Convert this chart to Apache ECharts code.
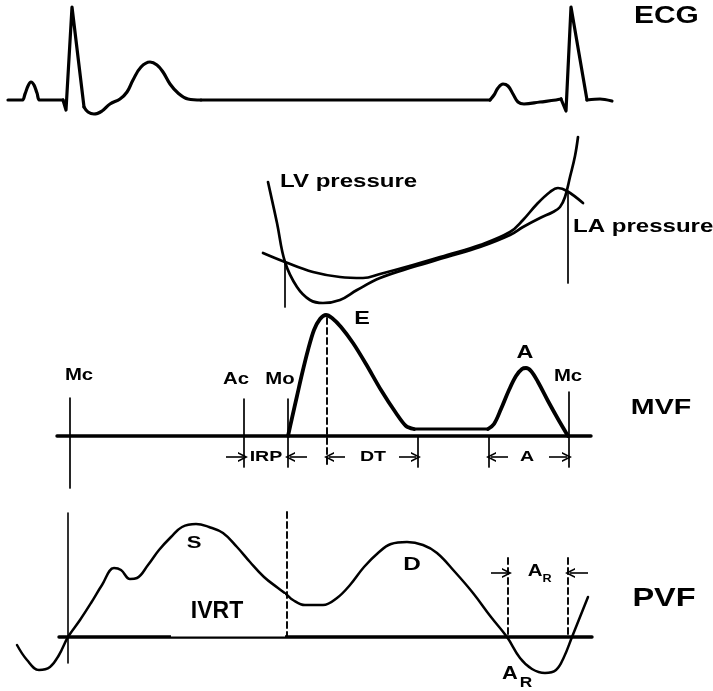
<!DOCTYPE html>
<html>
<head>
<meta charset="utf-8">
<title>Cardiac cycle: ECG, pressures, MVF, PVF</title>
<script src="https://cdn.jsdelivr.net/npm/echarts@6/dist/echarts.min.js"></script>
<style>
  html, body { margin: 0; padding: 0; background: #fff; }
  #chart { width: 713px; height: 691px; }
</style>
</head>
<body>
<div id="chart"></div>
<script>
// All traces share one time axis (x) and a top-down drawing axis (y).

// ---- ECG ----
const ecgP1 = [[8,100],[22,100],[25,94],[28,86],[31,82],[34,85],[37,93],[40,100],[63,100]];
const ecgQRS1 = [[63,100],[66,110],[72,7],[84,107]];
const ecgT = [[84,107],[88,112],[94,114],[102,111],[110,104],[120,99],[127,92],[133,80],[141,67],[150,62],[157,65],[163,72],[170,84],[178,93],[188,99],[201,100]];
const ecgBase = [[201,100],[490,100]];
const ecgP2 = [[490,100],[494,95],[498,88],[503,84],[508,86],[513,94],[518,102],[524,104],[540,102],[556,100],[561,99]];
const ecgQRS2 = [[561,99],[566,111],[571,7],[587,100]];
const ecgEnd = [[587,100],[600,99],[612,101]];

// ---- Pressures ----
const lvPressure = [[268,182],[277,223],[285,262],[297,287],[310,300],[323,303],[340,300],[357,290],[380,278],[413,267],[447,257],[480,247],[510,235],[523,227],[540,218],[553,212],[560,207],[565,197],[570,177],[575,156],[578,137]];
const laPressure = [[263,253],[285,262],[313,272],[340,277],[363,278],[380,274],[413,265],[447,255],[480,245],[510,232],[523,220],[537,204],[550,192],[558,188],[567,191],[583,203]];
const pressureMarks = [[[285,262],[285,307]], [[568,192],[568,283]]];

// ---- Mitral valve flow ----
const mvfBase = [[57,436],[591,436]];
const mvfE = [[288,436],[292,418],[297,396],[302,374],[308,350],[314,330],[320,319],[326,315],[332,318],[341,327],[353,343],[366,364],[381,390],[396,413],[406,426],[414,429]];
const mvfDiastasis = [[414,429],[488,429]];
const mvfA = [[488,429],[494,424],[501,409],[509,390],[516,376],[522,369],[526,368],[531,371],[538,382],[548,401],[558,419],[568,436]];
const mvfMarks = [
  [[70,398],[70,488]],   // Mc
  [[244,399],[244,467]], // Ac
  [[288,399],[288,467]], // Mo
  [[418,436],[418,467]], // end of DT
  [[489,436],[489,467]], // onset of A
  [[569,392],[569,467]]  // Mc
];
const mvfEPeakLine = [[327,318],[327,467]];
const mvfArrows = [
  [[226,457],[243,457]],
  [[307,457],[290,457]],
  [[345,457],[329,457]],
  [[399,457],[416,457]],
  [[508,457],[491,457]],
  [[549,457],[567,457]]
];

// ---- Pulmonary venous flow ----
const pvfBase = [[59,637],[592,637]];
const pvfFlow = [[17,645],[27,660],[39,670],[50,667],[59,655],[68,637],[80,620],[91,603],[102,585],[114,568],[121,570],[130,579],[137,578],[148,565],[159,550],[171,537],[182,527],[196,524],[209,527],[223,533],[237,547],[250,562],[264,577],[278,588],[286,594],[293,600],[305,605],[323,605],[337,598],[350,585],[364,567],[378,553],[391,544],[407,542],[423,545],[437,553],[455,572],[473,593],[491,617],[507,637],[520,658],[532,669],[545,673],[556,670],[564,657],[572,637],[580,617],[588,597]];
const pvfMark = [[68,513],[68,663]];
const pvfDashed = [[[287,512],[287,637]], [[508,558],[508,637]], [[568,558],[568,637]]];
const pvfArrows = [
  [[491,573],[507,573]],
  [[588,573],[570,573]]
];
const ivrtBox = [[171,594],[285,636.5]];

// ---- Text ----
const labelText = ['ECG','LV pressure','LA pressure','Mc','Ac','Mo','E','A','Mc','IRP','DT','A','MVF','S','D','IVRT','A','R','A','R','PVF'];
const labelX    = [667,280,573,79,236,280,362,525,568,266,373,527,661,194,412,217,535,547,510,526,664];
const labelY    = [17,182,227,376,380,380,319,353,377,457,457,457,408,543,565,612,571,579,674,683,599];
const labelSize = [23,18.5,18.5,16,16,16,18,18,16,14.5,14.5,14.5,22,17,18,23,17,10.5,19,15,25];
const labelAlign= ['left','left','left','center','center','center','center','center','center','center','center','center','center','center','center','center','center','center','center','center','center'];
const labelWide = [1.3,1.3,1.3,1.27,1.27,1.27,1.3,1.3,1.27,1.35,1.35,1.35,1.3,1.3,1.35,1.0,1.2,1.2,1.15,1.15,1.3];
labelX[0] = 634;

const FONT = '"Liberation Sans", Arial, sans-serif';

function curve(data, width, smooth, dashed) {
  return {
    type: 'line', data: data, showSymbol: false, smooth: smooth, silent: true,
    lineStyle: { color: '#000', width: width, type: dashed ? [6, 4] : 'solid', cap: 'round', join: 'round' },
    z: 3
  };
}

function segments(list, width, dashed) {
  return list.map(seg => curve(seg, width, false, dashed));
}

const chevron = 'path://M0,10 L5,0 L10,10 L8.2,10 L5,3.6 L1.8,10 Z';

function arrows(list) {
  return {
    type: 'lines', coordinateSystem: 'cartesian2d', silent: true,
    symbol: ['none', chevron], symbolSize: [9, 10],
    lineStyle: { color: '#000', width: 1.6, opacity: 1, curveness: 0 },
    data: list.map(c => ({ coords: c })), z: 4
  };
}

const chart = echarts.init(document.getElementById('chart'), null, { renderer: 'canvas' });

const series = [
  // ECG
  curve(ecgP1, 3.2, 0.4), curve(ecgQRS1, 3.2, false), curve(ecgT, 3.2, 0.4),
  curve(ecgBase, 3.2, false), curve(ecgP2, 3.2, 0.4), curve(ecgQRS2, 3.2, false), curve(ecgEnd, 3.2, 0.3),
  // pressures
  curve(lvPressure, 2.7, 0.4), curve(laPressure, 2.7, 0.4),
  ...segments(pressureMarks, 1.7),
  // MVF
  curve(mvfBase, 3.4, false),
  curve(mvfE, 3.8, 0.3), curve(mvfDiastasis, 3.2, false), curve(mvfA, 3.8, 0.35),
  ...segments(mvfMarks, 1.7),
  curve(mvfEPeakLine, 1.9, false, true),
  arrows(mvfArrows),
  // PVF
  curve(pvfBase, 3.4, false),
  curve(pvfFlow, 2.5, 0.4),
  curve(pvfMark, 1.6, false),
  ...segments(pvfDashed, 1.9, true),
  arrows(pvfArrows),
  {
    type: 'custom', silent: true, z: 5,
    data: [ivrtBox[0].concat(ivrtBox[1])],
    renderItem: function (params, api) {
      const a = api.coord([api.value(0), api.value(1)]);
      const b = api.coord([api.value(2), api.value(3)]);
      return { type: 'rect', shape: { x: a[0], y: a[1], width: b[0] - a[0], height: b[1] - a[1] }, style: { fill: '#fff' } };
    }
  },
  {
    type: 'custom', silent: true, z: 10,
    data: labelText.map((t, i) => [labelX[i], labelY[i]]),
    renderItem: function (params, api) {
      const i = params.dataIndex;
      const p = api.coord([api.value(0), api.value(1)]);
      return {
        type: 'text', x: p[0], y: p[1], scaleX: labelWide[i], scaleY: 1,
        style: {
          text: labelText[i], fill: '#000',
          font: 'bold ' + labelSize[i] + 'px ' + FONT,
          align: labelAlign[i], verticalAlign: 'middle'
        }
      };
    }
  }
];

chart.setOption({
  animation: false,
  backgroundColor: '#fff',
  grid: { left: 0, right: 0, top: 0, bottom: 0 },
  xAxis: { type: 'value', min: 0, max: 713, show: false },
  yAxis: { type: 'value', min: 0, max: 691, inverse: true, show: false },
  series: series
});
</script>
</body>
</html>
